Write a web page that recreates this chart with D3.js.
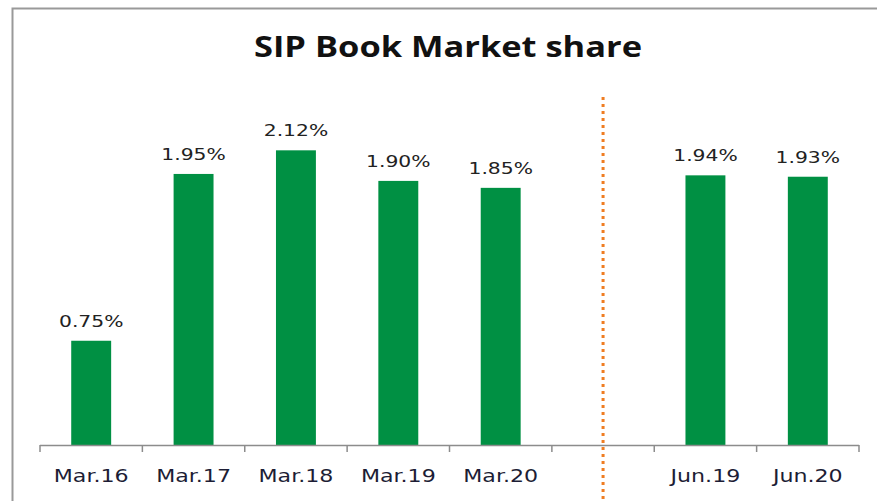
<!DOCTYPE html>
<html>
<head>
  <meta charset="utf-8">
  <title>SIP Book Market share</title>
  <script src="https://d3js.org/d3.v7.min.js"></script>
  <style>
    html, body {
      margin: 0;
      padding: 0;
      background: #fff;
    }
    .label {
      font-family: "DejaVu Sans", Verdana, sans-serif;
      fill: #222;
    }
    .title {
      font-family: "Open Sans", "DejaVu Sans", sans-serif;
      font-weight: 700;
      fill: #111;
    }
  </style>
</head>
<body>
  <svg id="chart" width="877" height="501"></svg>

  <script>
    // data
    var categories = ["Mar.16", "Mar.17", "Mar.18", "Mar.19", "Mar.20", "", "Jun.19", "Jun.20"];
    var values = [0.75, 1.95, 2.12, 1.90, 1.85, null, 1.94, 1.93];
    var valueLabels = ["0.75%", "1.95%", "2.12%", "1.90%", "1.85%", "", "1.94%", "1.93%"];

    var data = categories.map((c, i) => ({ cat: c, value: values[i], label: valueLabels[i] }));

    var svg = d3.select("#chart");
    const stretch = 1.23; // text in the picture is a bit wide

    // frame (only left and top edges show)
    svg.append("path")
      .attr("d", "M12.5,501 L12.5,8.5 L877,8.5")
      .attr("fill", "none")
      .attr("stroke", "#999")
      .attr("stroke-width", 2);

    var x = d3.scaleBand()
      .domain(categories)
      .range([40, 859])
      .paddingInner(0.61)
      .paddingOuter(0.305);

    var y = d3.scaleLinear()
      .domain([0, 2.5])
      .range([445, 97.5]);

    // title
    svg.append("text")
      .attr("class", "title")
      .attr("text-anchor", "middle")
      .attr("transform", "translate(448,57) scale(" + stretch + ",1)")
      .style("font-size", "28px")
      .text("SIP Book Market share");

    // bars
    svg.selectAll("rect.bar")
      .data(data.filter(d => d.value != null))
      .join("rect")
      .attr("class", "bar")
      .attr("x", d => x(d.cat))
      .attr("y", d => y(d.value))
      .attr("width", x.bandwidth())
      .attr("height", d => y(0) - y(d.value))
      .attr("fill", "#009043");

    // value labels
    svg.selectAll("text.val")
      .data(data.filter(d => d.value != null))
      .join("text")
      .attr("class", "label val")
      .attr("text-anchor", "middle")
      .attr("transform", d => "translate(" + (x(d.cat) + x.bandwidth() / 2) + "," + (y(d.value) - 14) + ") scale(" + stretch + ",1)")
      .style("font-size", "16.5px")
      .text(d => d.label);

    // axis line + ticks at band edges
    var step = x.step();
    var edges = categories.map(c => x(c) - (step - x.bandwidth()) / 2);
    edges.push(edges[edges.length - 1] + step);

    svg.append("line")
      .attr("x1", edges[0]).attr("x2", edges[edges.length - 1])
      .attr("y1", y(0) + 0.5).attr("y2", y(0) + 0.5)
      .attr("stroke", "#8c8c8c")
      .attr("stroke-width", 1.5);

    svg.selectAll("line.tick")
      .data(edges)
      .join("line")
      .attr("class", "tick")
      .attr("x1", d => d).attr("x2", d => d)
      .attr("y1", y(0)).attr("y2", y(0) + 7)
      .attr("stroke", "#8c8c8c")
      .attr("stroke-width", 1.5);

    // category labels
    svg.selectAll("text.cat")
      .data(data.filter(d => d.cat !== ""))
      .join("text")
      .attr("class", "label cat")
      .attr("text-anchor", "middle")
      .attr("transform", d => "translate(" + (x(d.cat) + x.bandwidth() / 2) + ",482) scale(" + stretch + ",1)")
      .style("font-size", "18px")
      .style("fill", "#1d1d35")
      .text(d => d.cat);

    // dotted divider in the empty slot
    var gapX = x("") + x.bandwidth() / 2;
    svg.append("line")
      .attr("x1", gapX).attr("x2", gapX)
      .attr("y1", 97).attr("y2", 501)
      .attr("stroke", "#ef7d22")
      .attr("stroke-width", 3)
      .attr("stroke-dasharray", "3,4");
  </script>
</body>
</html>
